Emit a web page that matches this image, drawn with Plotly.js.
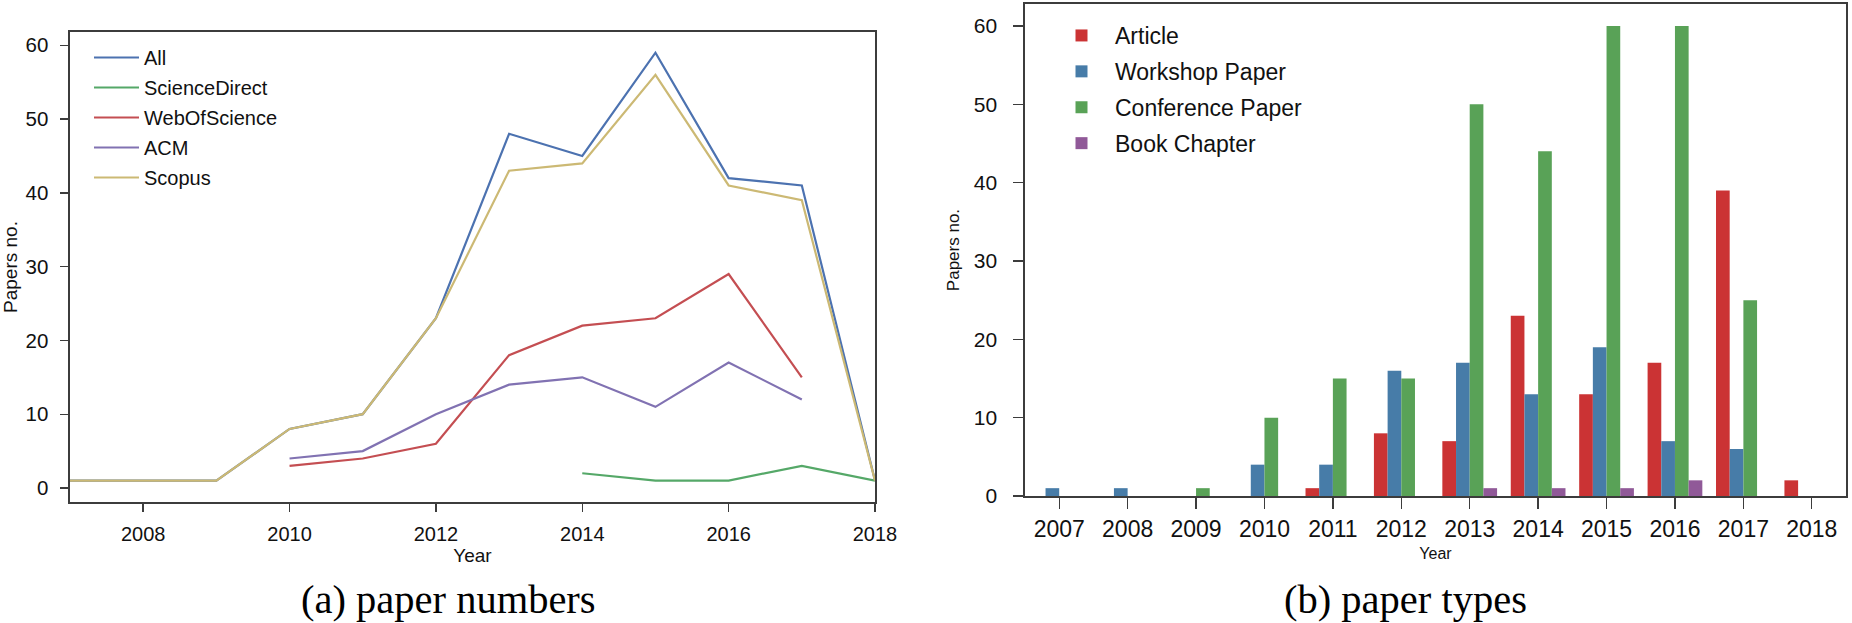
<!DOCTYPE html>
<html><head><meta charset="utf-8">
<script src="https://cdn.plot.ly/plotly-3.0.1.min.js"></script>
<style>html,body{margin:0;padding:0;background:#fff}#chart{width:1852px;height:623px}</style>
</head><body><div id="chart"></div>
<script>
// ---- (a) paper numbers ----
const years = [2007, 2008, 2009, 2010, 2011, 2012, 2013, 2014, 2015, 2016, 2017, 2018];
const allPapers     = [1, 1, 1, 8, 10, 23, 48, 45, 59, 42, 41, 1];
const scienceDirect = [null, null, null, null, null, null, null, 2, 1, 1, 3, 1];
const webOfScience  = [null, null, null, 3, 4, 6, 18, 22, 23, 29, 15, null];
const acm           = [null, null, null, 4, 5, 10, 14, 15, 11, 17, 12, null];
const scopus        = [1, 1, 1, 8, 10, 23, 43, 44, 56, 41, 39, 1];
const lineNames = ['All', 'ScienceDirect', 'WebOfScience', 'ACM', 'Scopus'];

// ---- (b) paper types ----
const typeYears   = ['2007', '2008', '2009', '2010', '2011', '2012', '2013', '2014', '2015', '2016', '2017', '2018'];
const article     = [0, 0, 0, 0, 1, 8, 7, 23, 13, 17, 39, 2];
const workshop    = [1, 1, 0, 4, 4, 16, 17, 13, 19, 7, 6, 0];
const conference  = [0, 0, 1, 10, 15, 15, 50, 44, 60, 60, 25, 0];
const bookChapter = [0, 0, 0, 0, 0, 0, 1, 1, 1, 2, 0, 0];
const typeNames = ['Article', 'Workshop Paper', 'Conference Paper', 'Book Chapter'];

const W = 1852, H = 623;
const px = v => v / W;
const py = v => 1 - v / H;

const lineColors = ['#4C72B0', '#55A868', '#C44E52', '#8172B2', '#CCB974'];
const barColors = ['#CB3334', '#477CA8', '#59A257', '#905998'];
const SANS = 'Liberation Sans, Arial, Helvetica, sans-serif';
const axisCol = '#3c3c3c';

const lineSeries = [allPapers, scienceDirect, webOfScience, acm, scopus];
const traces = lineSeries.map((s, i) => ({
  type: 'scatter', mode: 'lines', x: years, y: s, name: lineNames[i],
  line: {color: lineColors[i], width: 2.2}, xaxis: 'x', yaxis: 'y', legend: 'legend',
  legendgroup: 'a' + i, connectgaps: false
}));
const barSeries = [article, workshop, conference, bookChapter];
barSeries.forEach((s, i) => traces.push({
  type: 'bar', x: typeYears, y: s, name: typeNames[i],
  marker: {color: barColors[i], line: {width: 0}},
  xaxis: 'x2', yaxis: 'y2', legend: 'legend2', legendgroup: 'b' + i
}));

const layout = {
  width: W, height: H,
  margin: {l: 0, r: 0, t: 0, b: 0},
  paper_bgcolor: '#fff', plot_bgcolor: '#fff',
  font: {family: SANS, color: '#111'},
  barmode: 'group', bargap: 0.2, bargroupgap: 0,
  xaxis: {
    domain: [px(70), px(875)], anchor: 'y', range: [2007, 2018],
    tickmode: 'linear', tick0: 2008, dtick: 2,
    showgrid: false, zeroline: false, showline: true, mirror: true,
    linecolor: axisCol, linewidth: 1.6,
    ticks: 'outside', ticklen: 8, tickwidth: 1.4, tickcolor: axisCol,
    tickfont: {size: 20, family: SANS, color: '#111'}, ticklabelstandoff: 5,
    title: {text: 'Year', standoff: 5, font: {size: 19, family: SANS, color: '#111'}}
  },
  yaxis: {
    domain: [py(502), py(32)], anchor: 'x', range: [-1.9, 61.8],
    tickmode: 'linear', tick0: 0, dtick: 10,
    showgrid: false, zeroline: false, showline: true, mirror: true,
    linecolor: axisCol, linewidth: 1.6,
    ticks: 'outside', ticklen: 8, tickwidth: 1.4, tickcolor: axisCol,
    tickfont: {size: 20.5, family: SANS, color: '#111'}, ticklabelstandoff: 8,
    title: {text: 'Papers no.', standoff: 9, font: {size: 19, family: SANS, color: '#111'}}
  },
  xaxis2: {
    domain: [px(1025), px(1846)], anchor: 'y2', type: 'category', range: [-0.5, 11.5],
    showgrid: false, zeroline: false, showline: true, mirror: true,
    linecolor: axisCol, linewidth: 1.6,
    ticks: 'outside', ticklen: 11, tickwidth: 1.4, tickcolor: axisCol,
    tickfont: {size: 23, family: SANS, color: '#111'}, ticklabelstandoff: 1,
    title: {text: 'Year', standoff: 6, font: {size: 16, family: SANS, color: '#111'}}
  },
  yaxis2: {
    domain: [py(496), py(4)], anchor: 'x2', range: [0, 62.8],
    tickmode: 'linear', tick0: 0, dtick: 10,
    showgrid: false, zeroline: false, showline: true, mirror: true,
    linecolor: axisCol, linewidth: 1.6,
    ticks: 'outside', ticklen: 10, tickwidth: 1.4, tickcolor: axisCol,
    tickfont: {size: 21, family: SANS, color: '#111'}, ticklabelstandoff: 12,
    title: {text: 'Papers no.', standoff: 10, font: {size: 17, family: SANS, color: '#111'}}
  },
  legend: {
    x: px(89), y: py(38), xanchor: 'left', yanchor: 'top',
    bgcolor: 'rgba(0,0,0,0)', borderwidth: 0, itemwidth: 45,
    traceorder: 'grouped', tracegroupgap: 1,
    font: {size: 20, family: SANS, color: '#111'}
  },
  legend2: {
    x: px(1048), y: py(14), xanchor: 'left', yanchor: 'top',
    bgcolor: 'rgba(0,0,0,0)', borderwidth: 0, itemwidth: 57,
    traceorder: 'grouped', tracegroupgap: 3,
    font: {size: 23, family: SANS, color: '#111'}
  },
  annotations: [
    {text: '(a) paper numbers', xref: 'paper', yref: 'paper', x: px(448), y: py(599),
     xanchor: 'center', yanchor: 'middle', showarrow: false,
     font: {family: 'Liberation Serif, Times New Roman, serif', size: 40.5, color: '#000'}},
    {text: '(b) paper types', xref: 'paper', yref: 'paper', x: px(1405), y: py(599),
     xanchor: 'center', yanchor: 'middle', showarrow: false,
     font: {family: 'Liberation Serif, Times New Roman, serif', size: 40.5, color: '#000'}}
  ]
};

Plotly.newPlot('chart', traces, layout, {displayModeBar: false, staticPlot: true});
</script>
</body></html>
